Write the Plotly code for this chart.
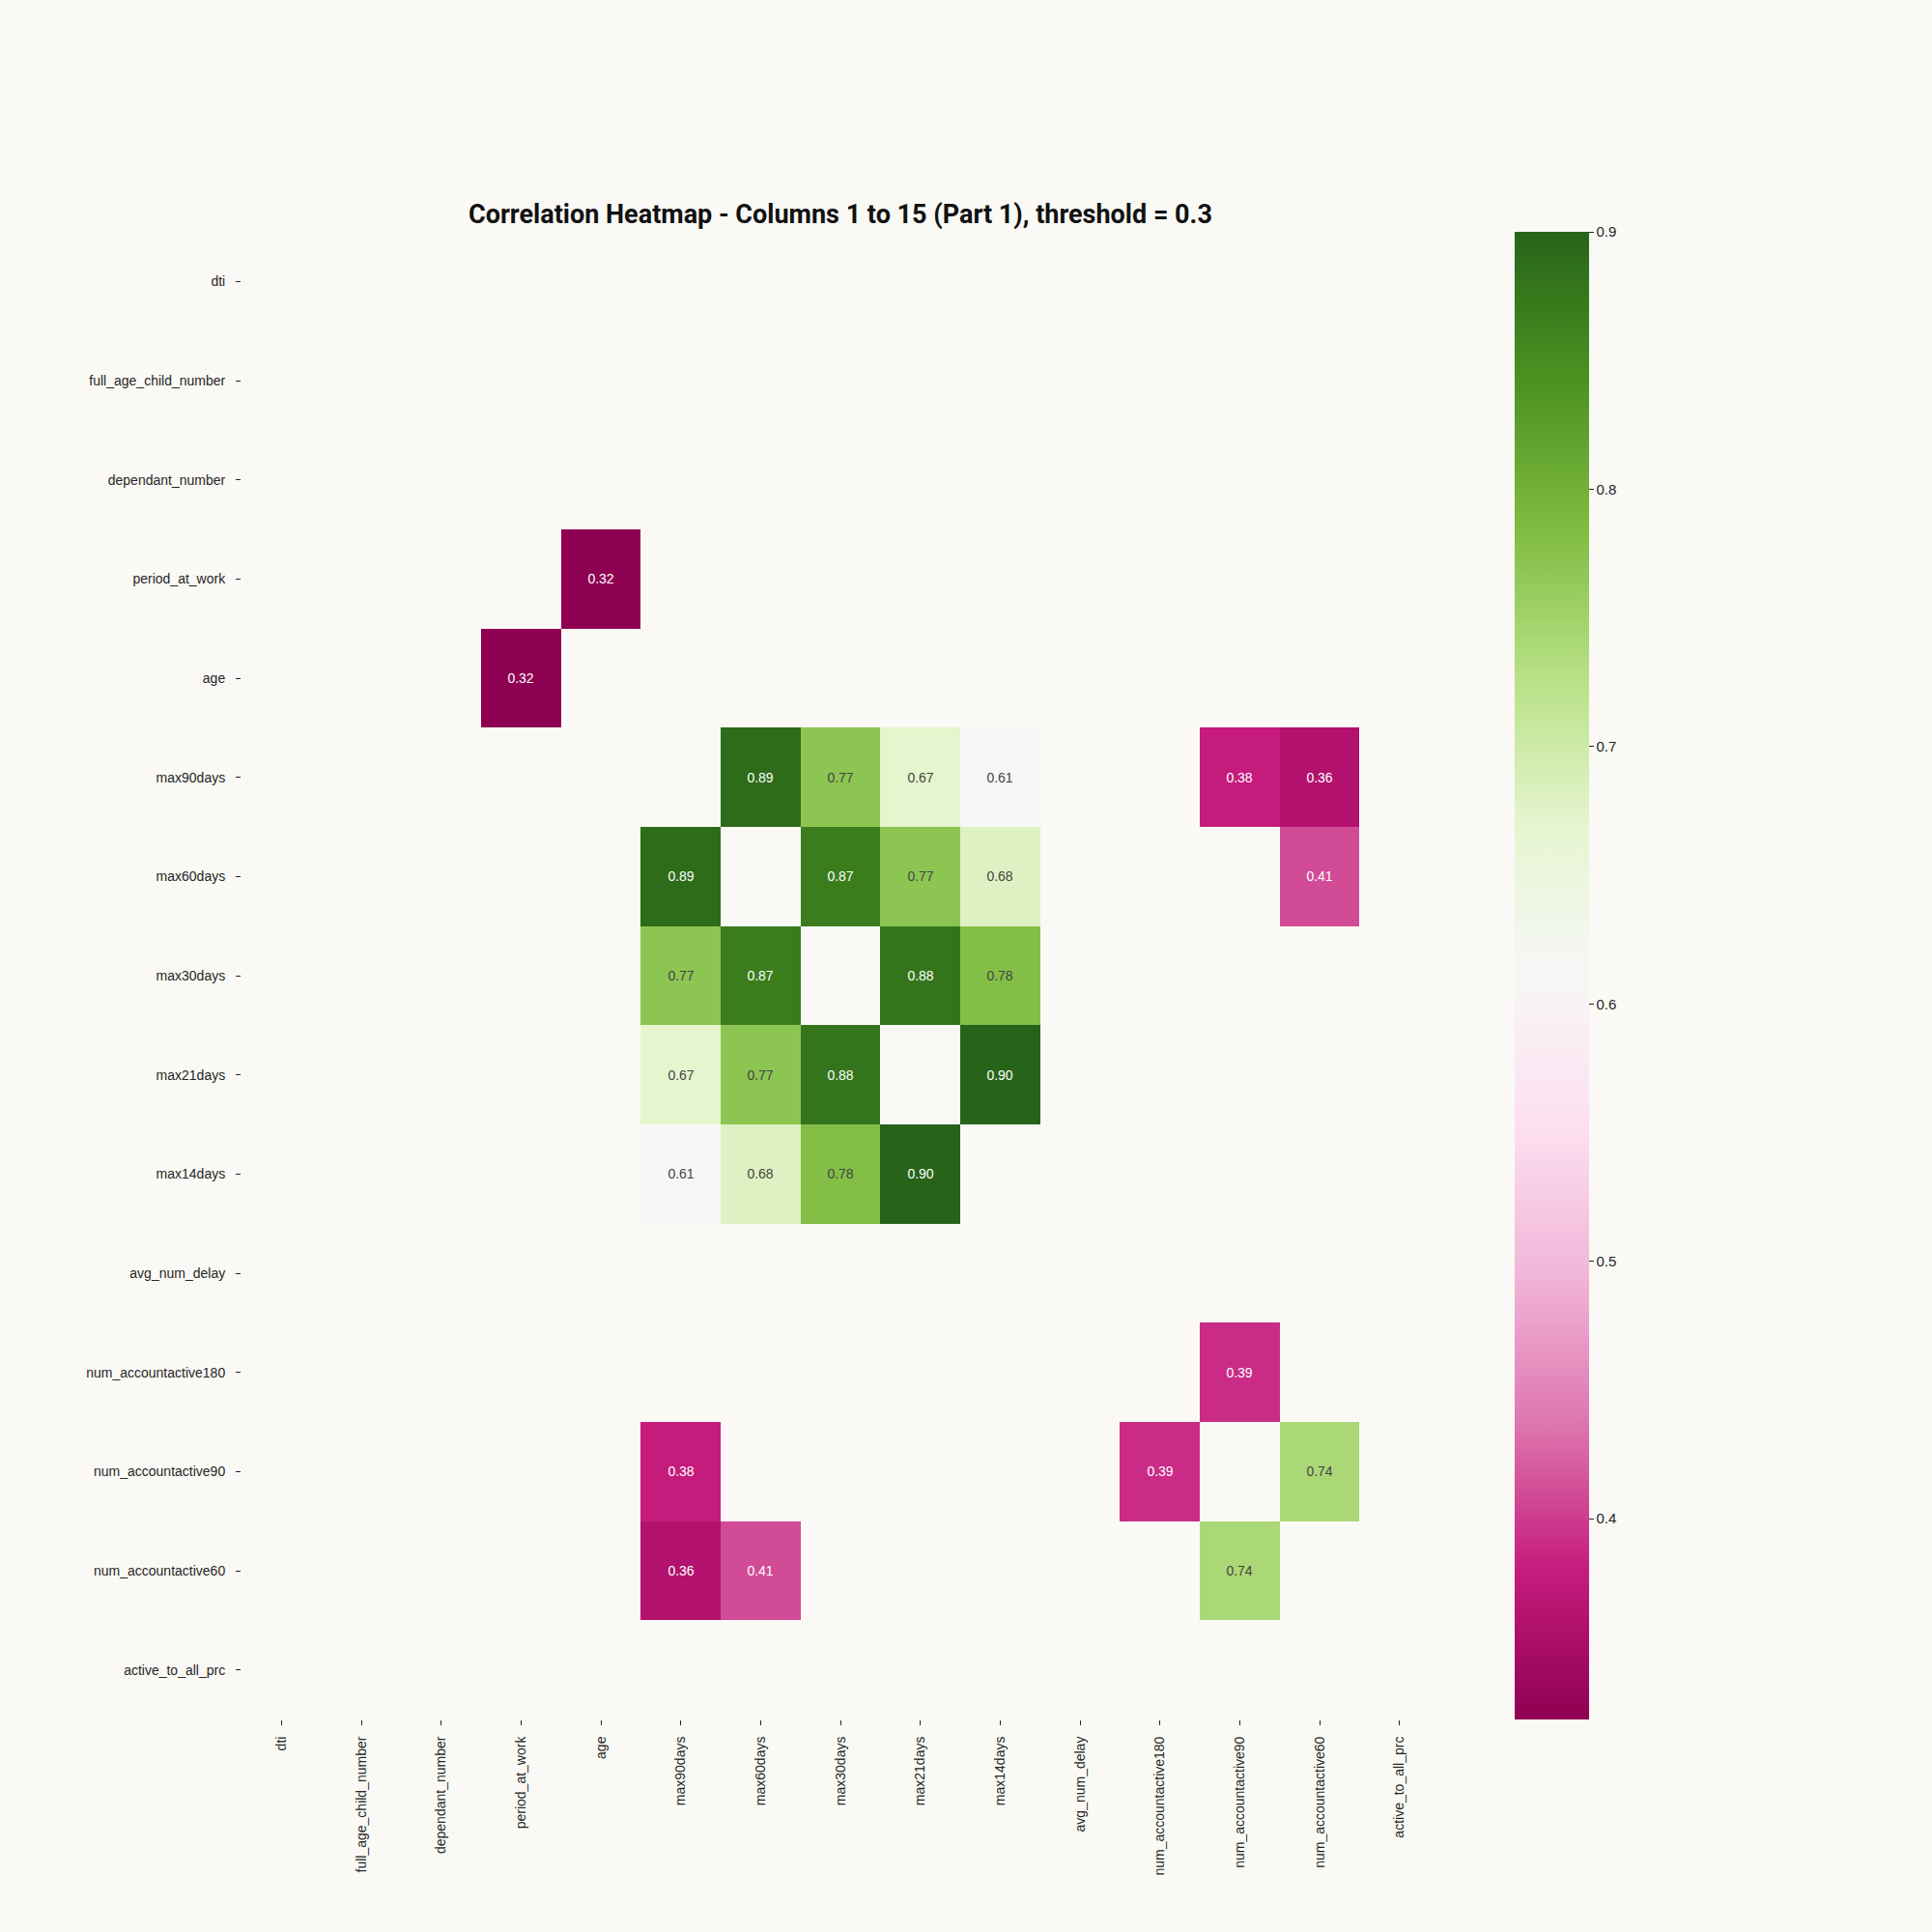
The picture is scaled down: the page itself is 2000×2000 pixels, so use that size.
import numpy as np
import plotly.graph_objects as go

labels = ["dti", "full_age_child_number", "dependant_number", "period_at_work", "age",
          "max90days", "max60days", "max30days", "max21days", "max14days",
          "avg_num_delay", "num_accountactive180", "num_accountactive90",
          "num_accountactive60", "active_to_all_prc"]

# correlated pairs above threshold (upper triangle), mirrored below
pair_a = ["period_at_work", "max90days", "max90days", "max90days", "max90days", "max90days", "max90days",
          "max60days", "max60days", "max60days", "max60days", "max30days", "max30days",
          "max21days", "num_accountactive180", "num_accountactive90"]
pair_b = ["age", "max60days", "max30days", "max21days", "max14days", "num_accountactive90", "num_accountactive60",
          "max30days", "max21days", "max14days", "num_accountactive60", "max21days", "max14days",
          "max14days", "num_accountactive90", "num_accountactive60"]
pair_r = [0.322, 0.89, 0.77, 0.67, 0.61, 0.38, 0.36,
          0.87, 0.77, 0.68, 0.41, 0.88, 0.78,
          0.90, 0.39, 0.74]

cbar_ticks = [0.4, 0.5, 0.6, 0.7, 0.8, 0.9]
cbar_labels = ["0.4", "0.5", "0.6", "0.7", "0.8", "0.9"]

n = len(labels)
z = np.full((n, n), np.nan)
for a, b, r in zip(pair_a, pair_b, pair_r):
    i, j = labels.index(a), labels.index(b)
    z[i, j] = r
    z[j, i] = r

zmin, zmax = min(pair_r), max(pair_r)

piyg = ['rgb(142,1,82)', 'rgb(197,27,125)', 'rgb(222,119,174)', 'rgb(241,182,218)',
        'rgb(253,224,239)', 'rgb(247,247,247)', 'rgb(230,245,208)', 'rgb(184,225,134)',
        'rgb(127,188,65)', 'rgb(77,146,33)', 'rgb(39,100,25)']
cscale = [[k / (len(piyg) - 1), c] for k, c in enumerate(piyg)]

text = [["" if np.isnan(v) else f"{v:.2f}" for v in row] for row in z]

bg = "#faf9f5"
L, R, T, B = 250, 1490, 240, 1780

fig = go.Figure(go.Heatmap(
    z=z, x=labels, y=labels, zmin=zmin, zmax=zmax,
    colorscale=cscale, text=text, texttemplate="%{text}",
    textfont=dict(family="Liberation Sans, Arial", size=14),
    hoverongaps=False,
    colorbar=dict(
        x=(1568 - L) / (R - L), xanchor="left", xpad=0, ypad=0,
        y=0.5, yanchor="middle", lenmode="pixels", len=B - T,
        thickness=77, outlinewidth=0,
        ticks="outside", ticklen=5, tickcolor="#262626",
        tickmode="array", tickvals=cbar_ticks, ticktext=cbar_labels,
        tickfont=dict(family="Liberation Sans, Arial", size=15, color="#262626"),
    ),
))

fig.update_layout(
    width=2000, height=2000,
    margin=dict(l=L, r=2000 - R, t=T, b=2000 - B, autoexpand=False),
    paper_bgcolor=bg, plot_bgcolor=bg,
    title=dict(text="<b>Correlation Heatmap - Columns 1 to 15 (Part 1), threshold = 0.3</b>",
               x=0.5, xanchor="center", xref="paper",
               y=1 - 222 / 2000, yanchor="middle",
               font=dict(family="Roboto, sans-serif", size=27, color="#111111")),
    font=dict(family="Liberation Sans, Arial", color="#262626"),
)
fig.update_xaxes(showgrid=False, zeroline=False, showline=False, tickangle=-90,
                 ticks="outside", ticklen=5, tickcolor="#262626",
                 tickfont=dict(size=14, color="#262626"), ticklabelstandoff=6)
fig.update_yaxes(showgrid=False, zeroline=False, showline=False, autorange="reversed",
                 ticks="outside", ticklen=5, tickcolor="#262626",
                 tickfont=dict(size=14, color="#262626"), ticklabelstandoff=8)

fig.write_html("out.html")
